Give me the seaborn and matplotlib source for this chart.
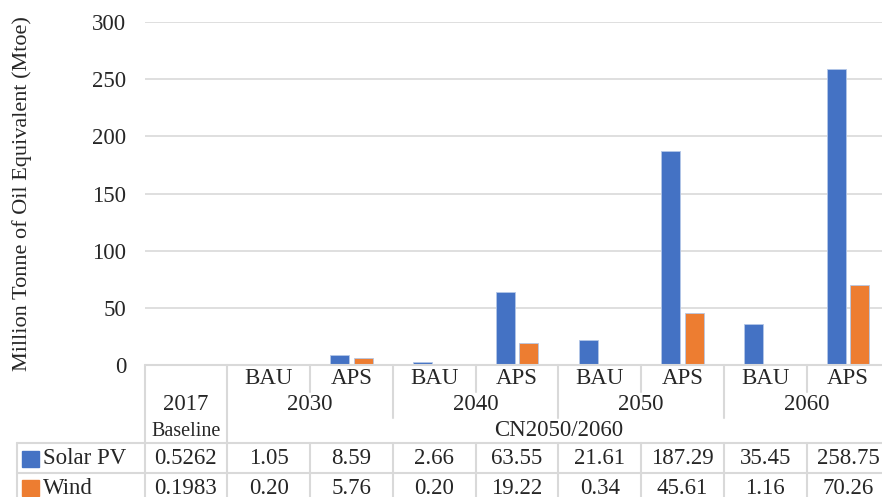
import matplotlib
matplotlib.use("Agg")
import matplotlib.pyplot as plt
import numpy as np
import pandas as pd
import seaborn as sns
from matplotlib.lines import Line2D
from matplotlib.patches import Rectangle

# Columns of the chart: one per scenario/year pair
column_years = ["2017", "2030", "2030", "2040", "2040", "2050", "2050", "2060", "2060"]
column_scenarios = ["Baseline", "BAU", "APS", "BAU", "APS", "BAU", "APS", "BAU", "APS"]
group_years = ["2030", "2040", "2050", "2060"]
group_label = "CN2050/2060"
series_names = ["Solar PV", "Wind"]

solar_pv = [0.5262, 1.05, 8.59, 2.66, 63.55, 21.61, 187.29, 35.45, 258.75]
wind = [0.1983, 0.20, 5.76, 0.20, 19.22, 0.34, 45.61, 1.16, 70.26]

y_ticks = [0, 50, 100, 150, 200, 250, 300]
y_label = "Million Tonne of Oil Equivalent (Mtoe)"

colors = ["#4472C4", "#ED7D31"]
grid_color = "#d9d9d9"
text_color = "#262626"

W, H = 882, 497

sns.set_theme(style="white")
plt.rcParams["font.family"] = ["Liberation Serif", "DejaVu Serif"]

col_ids = [f"{y} {s}" for y, s in zip(column_years, column_scenarios)]
df = pd.DataFrame({
    "column": col_ids * 2,
    "series": [series_names[0]] * len(col_ids) + [series_names[1]] * len(col_ids),
    "value": solar_pv + wind,
})

fig = plt.figure(figsize=(W / 100, H / 100), dpi=100)
ax = fig.add_axes([144.5 / W, 132 / H, 745 / W, 343 / H])

sns.barplot(data=df, x="column", y="value", hue="series", order=col_ids,
            hue_order=series_names, palette=colors, saturation=1,
            width=0.56, gap=0.18, edgecolor="#b4c7e7", linewidth=0.6,
            legend=False, ax=ax)

ax.set_xlim(-0.5, len(col_ids) - 0.5)
ax.set_ylim(0, 300)
ax.set_yticks(y_ticks)
ax.set_yticklabels([str(t) for t in y_ticks], fontsize=16.5, color=text_color)
ax.tick_params(axis="y", length=0, pad=13)
ax.set_xticks([])
ax.set_xlabel("")
ax.set_ylabel("")
ax.yaxis.grid(True, color=grid_color, linewidth=1.2)
ax.set_axisbelow(True)
for sp in ax.spines.values():
    sp.set_visible(False)

fig.text(22 / W, 1 - 194 / H, y_label, rotation=90, ha="center", va="center",
         fontsize=16, color=text_color)

# ---- data table under the plot ----
pos = ax.get_position()
x0, x1 = ax.get_xlim()


def fx(x):
    return pos.x0 + (x - x0) / (x1 - x0) * pos.width


def fy(py):
    return 1 - py / H


def hline(py, xa, xb):
    fig.add_artist(Line2D([xa, xb], [fy(py), fy(py)], color=grid_color, lw=1.5,
                          transform=fig.transFigure, clip_on=False))


def vline(xf, pa, pb):
    fig.add_artist(Line2D([xf, xf], [fy(pa), fy(pb)], color=grid_color, lw=1.5,
                          transform=fig.transFigure, clip_on=False))


n = len(col_ids)
legend_left = 17 / W
hline(365, fx(-0.5), fx(n - 0.5))
hline(443, legend_left, fx(n - 0.5))
hline(473, legend_left, fx(n - 0.5))
vline(legend_left, 443, 500)
vline(fx(-0.5), 365, 500)
vline(fx(0.5), 365, 500)
for i in range(1, n - 1):
    xb = i + 0.5
    top_end = 392 if i % 2 == 1 else 418
    vline(fx(xb), 365, top_end)
    vline(fx(xb), 443, 500)

fs = 16.5
# scenario row
for i in range(1, n):
    fig.text(fx(i), fy(378), column_scenarios[i], ha="center", va="center",
             fontsize=fs, color=text_color)
# year row
fig.text(fx(0), fy(404), column_years[0], ha="center", va="center",
         fontsize=fs, color=text_color)
for g, yr in enumerate(group_years):
    fig.text(fx(1.5 + 2 * g), fy(404), yr, ha="center", va="center",
             fontsize=fs, color=text_color)
# scenario family row
fig.text(fx(0), fy(431), column_scenarios[0], ha="center", va="center",
         fontsize=14.5, color=text_color)
fig.text(fx((1 + n - 1) / 2), fy(431), group_label, ha="center", va="center",
         fontsize=fs, color=text_color)

# value rows with legend keys
row_y = [459, 488]
for series, vals, c, ry in zip(series_names, [solar_pv, wind], colors, row_y):
    fig.add_artist(Rectangle((22 / W, fy(ry + 8)), 17 / W, 16 / H,
                             transform=fig.transFigure, color=c, clip_on=False))
    fig.text(43 / W, fy(ry), series, ha="left", va="center", fontsize=fs,
             color=text_color)
    for i, v in enumerate(vals):
        txt = f"{v:.4f}" if i == 0 else f"{v:.2f}"
        fig.text(fx(i), fy(ry), txt, ha="center", va="center", fontsize=fs,
                 color=text_color)

fig.savefig("out.png", dpi=100)
